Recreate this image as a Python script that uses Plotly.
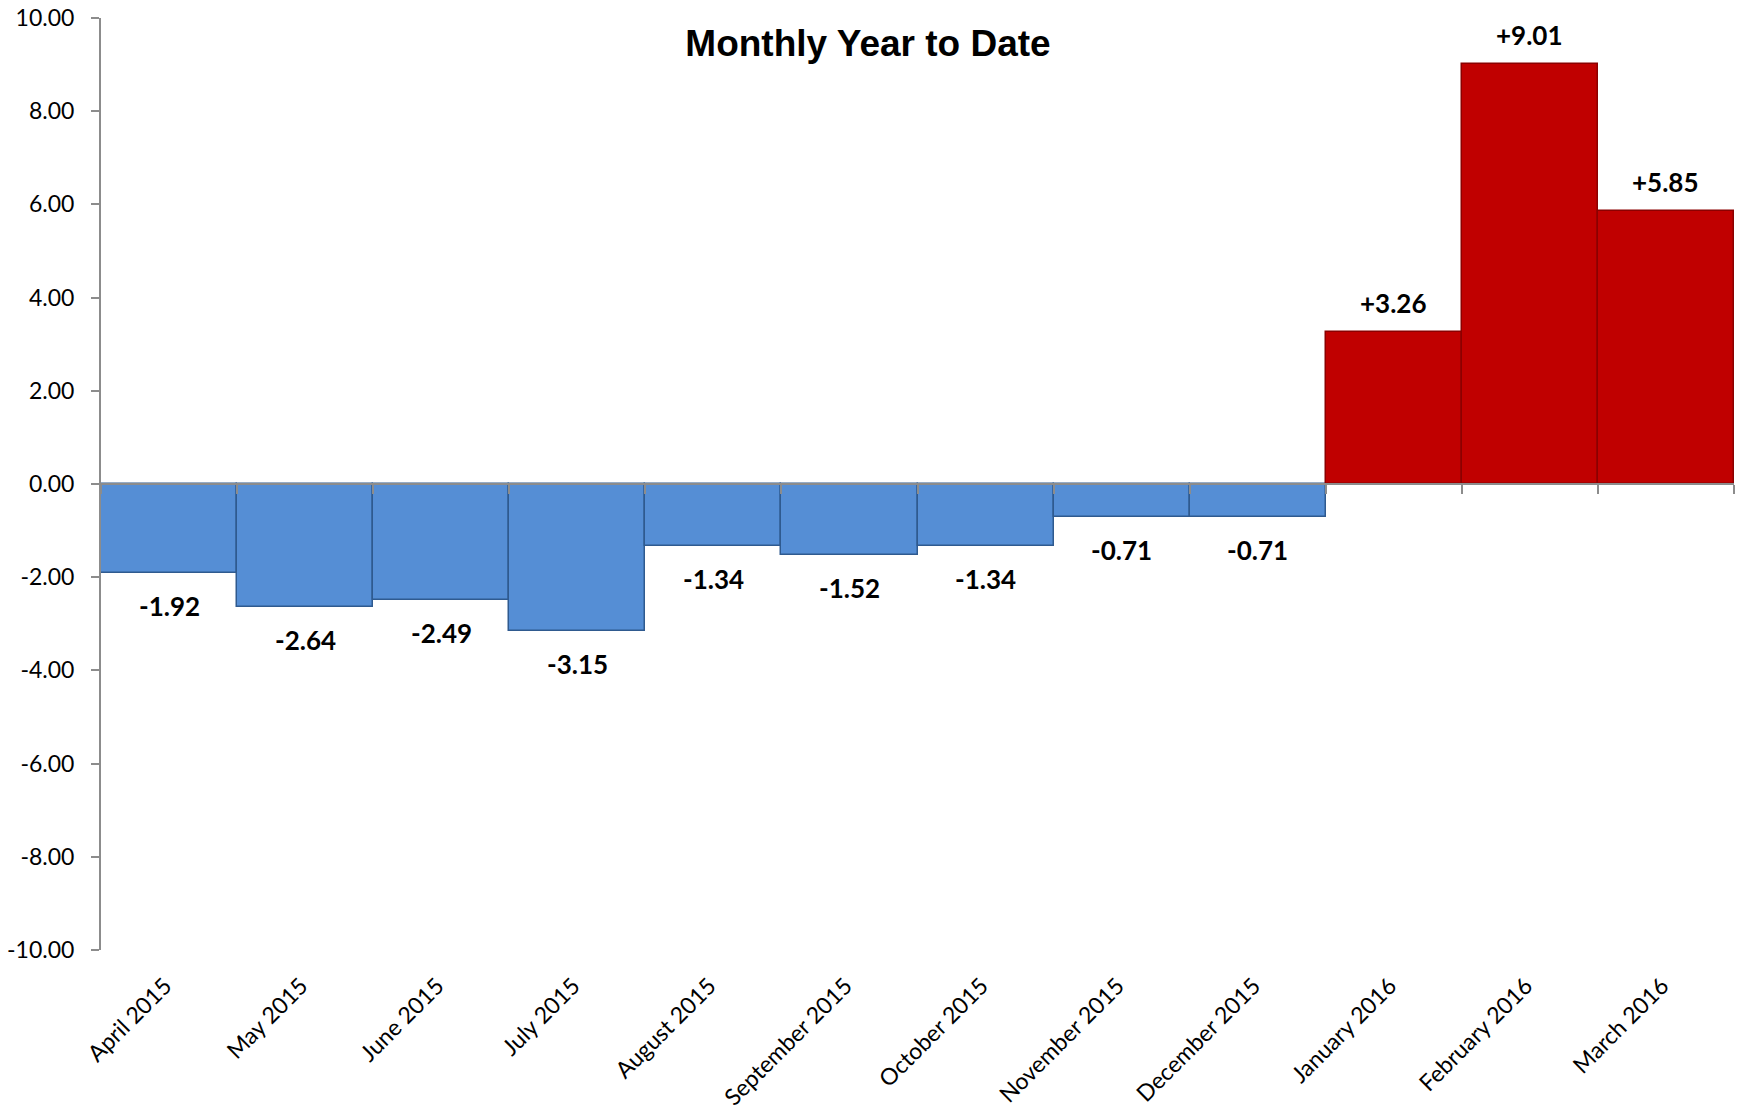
import plotly.graph_objects as go

months = ["April 2015", "May 2015", "June 2015", "July 2015", "August 2015",
          "September 2015", "October 2015", "November 2015", "December 2015",
          "January 2016", "February 2016", "March 2016"]
values = [-1.92, -2.64, -2.49, -3.15, -1.34, -1.52, -1.34, -0.71, -0.71, 3.26, 9.01, 5.85]
labels = ["-1.92", "-2.64", "-2.49", "-3.15", "-1.34", "-1.52", "-1.34", "-0.71", "-0.71",
          "+3.26", "+9.01", "+5.85"]
y_ticks = [10, 8, 6, 4, 2, 0, -2, -4, -6, -8, -10]
y_tick_text = ["10.00", "8.00", "6.00", "4.00", "2.00", "0.00",
               "-2.00", "-4.00", "-6.00", "-8.00", "-10.00"]

fill = ["#C00000" if v > 0 else "#558ED5" for v in values]
edge = ["#8B0000" if v > 0 else "#2F5A8F" for v in values]

fig = go.Figure()
fig.add_trace(go.Bar(x=months, y=values, marker=dict(color=fill, line=dict(color=edge, width=1.5)),
                     hoverinfo="skip"))
# helper trace for the zero-position category axis (ticks only)
fig.add_trace(go.Scatter(x=months, y=[0]*len(months), xaxis="x2", mode="none",
                         showlegend=False, hoverinfo="skip"))

for m, v, t in zip(months, values, labels):
    fig.add_annotation(x=m, y=v, text="<b>%s</b>" % t, showarrow=False,
                       yanchor="middle", yshift=29 if v > 0 else -33,
                       font=dict(family="Lato", size=26, color="#000000"))

W, H = 1741, 1112
fig.update_layout(
    width=W, height=H,
    margin=dict(l=101, r=7, t=18, b=162, autoexpand=False),
    paper_bgcolor="white", plot_bgcolor="white",
    bargap=0, showlegend=False,
    title=dict(text="<b>Monthly Year to Date</b>", x=868/W, xanchor="center",
               y=1 - 43/H, yanchor="middle",
               font=dict(family="Liberation Sans", size=37, color="#000000")),
    xaxis=dict(categoryorder="array", categoryarray=months, range=[-0.5, 11.5],
               showline=False, ticks="", tickangle=-45, showgrid=False, zeroline=False,
               automargin=False, ticklabelshift=-4, ticklabelstandoff=17,
               ticklabeloverflow="allow",
               tickfont=dict(family="Lato", size=23, color="#000000")),
    xaxis2=dict(overlaying="x", anchor="free", position=0.5, side="bottom",
                categoryorder="array", categoryarray=months, range=[-0.5, 11.5],
                showline=True, linecolor="#8C8C8C", linewidth=2, automargin=False,
                ticks="outside", tickson="boundaries", ticklen=9, tickcolor="#8C8C8C", tickwidth=1.5,
                showticklabels=False, showgrid=False, zeroline=False),
    yaxis=dict(range=[-10, 10], tickvals=y_ticks, ticktext=y_tick_text,
               showline=True, linecolor="#8C8C8C", linewidth=2, automargin=False,
               ticks="outside", ticklen=8, tickcolor="#8C8C8C", tickwidth=1.5,
               showgrid=False, zeroline=False, ticklabelstandoff=12,
               ticklabeloverflow="allow",
               tickfont=dict(family="Lato", size=23, color="#000000")),
)

# remove the browser's default 8px body margin so the figure fills the window exactly
fig.write_html("out.html", config={"displayModeBar": False},
               post_script="document.body.style.margin='0';document.body.style.overflow='hidden';")
